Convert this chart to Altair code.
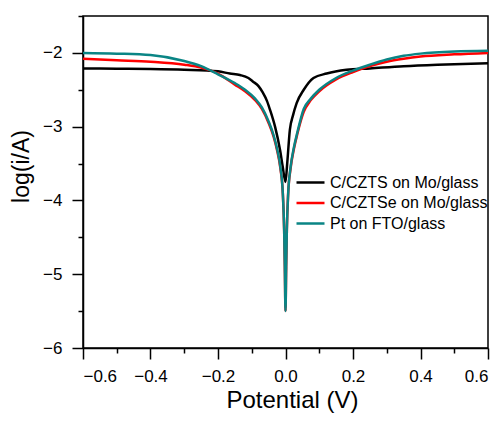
import altair as alt
import pandas as pd

# C/CZTS on Mo/glass (black)
czts_x = [-0.6, -0.5, -0.4, -0.3, -0.2, -0.165, -0.135, -0.11, -0.096, -0.08, -0.067, -0.055, -0.046,
          -0.031, -0.016, -0.008, 0.0, 0.005, 0.013, 0.022, 0.033, 0.054, 0.083, 0.122, 0.181, 0.25,
          0.35, 0.45, 0.6]
czts_y = [-2.21, -2.215, -2.22, -2.23, -2.25, -2.28, -2.30, -2.34, -2.39, -2.45, -2.54, -2.65, -2.77,
          -3.0, -3.32, -3.55, -3.75, -3.5, -3.04, -2.85, -2.68, -2.50, -2.34, -2.28, -2.23, -2.21,
          -2.18, -2.16, -2.14]

# C/CZTSe on Mo/glass (red)
cztse_x = [-0.6, -0.5, -0.4, -0.3, -0.25, -0.2, -0.15, -0.12, -0.09, -0.07, -0.05, -0.035, -0.025,
           -0.015, -0.008, -0.004, -0.002, 0.0, 0.002, 0.004, 0.008, 0.015, 0.025, 0.035, 0.054,
           0.075, 0.1, 0.15, 0.2, 0.25, 0.3, 0.35, 0.4, 0.5, 0.6]
cztse_y = [-2.08, -2.10, -2.12, -2.16, -2.20, -2.28, -2.43, -2.52, -2.64, -2.76, -2.95, -3.14, -3.32,
           -3.57, -3.9, -4.4, -4.9, -5.5, -4.9, -4.4, -3.9, -3.57, -3.30, -3.10, -2.80,
           -2.64, -2.52, -2.36, -2.26, -2.18, -2.12, -2.08, -2.05, -2.02, -2.00]

# Pt on FTO/glass (teal)
pt_x = [-0.6, -0.5, -0.4, -0.3, -0.25, -0.2, -0.15, -0.12, -0.09, -0.07, -0.05, -0.035, -0.025,
        -0.015, -0.008, -0.004, -0.002, 0.0, 0.002, 0.004, 0.008, 0.015, 0.025, 0.035, 0.054,
        0.075, 0.1, 0.15, 0.2, 0.25, 0.3, 0.35, 0.4, 0.5, 0.6]
pt_y = [-2.00, -2.01, -2.03, -2.11, -2.18, -2.29, -2.41, -2.50, -2.62, -2.74, -2.93, -3.12, -3.30,
        -3.55, -3.9, -4.4, -4.9, -5.5, -4.9, -4.4, -3.9, -3.55, -3.28, -3.08, -2.76,
        -2.62, -2.50, -2.34, -2.24, -2.16, -2.09, -2.04, -2.01, -1.98, -1.97]

series_names = ["C/CZTS on Mo/glass", "C/CZTSe on Mo/glass", "Pt on FTO/glass"]
series_colors = ["#000000", "#ff0000", "#0a8585"]
series_widths = [2.5, 2.5, 3.2]

x_ticks = [round(-0.6 + 0.1 * i, 1) for i in range(13)]
y_ticks = [round(-6 + 0.5 * i, 1) for i in range(10)]

frames = []
for name, xs, ys in zip(series_names, [czts_x, cztse_x, pt_x], [czts_y, cztse_y, pt_y]):
    frames.append(pd.DataFrame({"x": xs, "y": ys, "series": name}))
df = pd.concat(frames, ignore_index=True)

FONT = "Liberation Sans"

x_enc = alt.X("x:Q", scale=alt.Scale(domain=[-0.6, 0.6], nice=False, zero=False),
              axis=alt.Axis(values=x_ticks, title="Potential (V)", grid=False,
                            labelExpr="abs(datum.value*5 - round(datum.value*5)) < 0.001 ? format(datum.value, '.1f') : ''",
                            tickSize={"condition": {"test": "abs(datum.value*5 - round(datum.value*5)) < 0.001", "value": 11}, "value": 5},
                            labelPadding=9, labelFontSize=17, titleFontSize=24, titlePadding=4,
                            titleX=209))
y_enc = alt.Y("y:Q", scale=alt.Scale(domain=[-6, -1.5], nice=False, zero=False),
              axis=alt.Axis(values=y_ticks, title="log(i/A)", grid=False,
                            labelExpr="abs(datum.value - round(datum.value)) < 0.001 ? format(datum.value, 'd') : ''",
                            tickSize={"condition": {"test": "abs(datum.value - round(datum.value)) < 0.001", "value": 11}, "value": 5},
                            labelPadding=10, labelFontSize=17, titleFontSize=23, titlePadding=9,
                            titleY=150))

chart = alt.Chart(df).mark_line(interpolate="monotone").encode(
    x=x_enc,
    y=y_enc,
    color=alt.Color("series:N", scale=alt.Scale(domain=series_names, range=series_colors),
                    legend=alt.Legend(title=None, orient="none", legendX=216, legendY=155,
                                      symbolType="M-1.4,0H1.4", symbolSize=400, symbolStrokeWidth=3,
                                      labelFontSize=16, labelFont=FONT, rowPadding=0.5,
                                      padding=0, labelOffset=8)),
    strokeWidth=alt.StrokeWidth("series:N", scale=alt.Scale(domain=series_names, range=series_widths), legend=None),
    order=alt.Order("series:N"),
).properties(
    width=405, height=332,
    autosize=alt.AutoSizeParams(type="none"),
    padding={"left": 75, "top": 8, "right": 7, "bottom": 65},
).configure_view(
    stroke="#000000", strokeWidth=1.5
).configure_axis(
    domainColor="#000000", domainWidth=1.5, tickColor="#000000", tickWidth=1.5,
    labelColor="#000000", titleColor="#000000", labelFont=FONT, titleFont=FONT,
    titleFontWeight="normal"
)

chart.save("out.html", embed_options={"renderer": "svg", "actions": False})
